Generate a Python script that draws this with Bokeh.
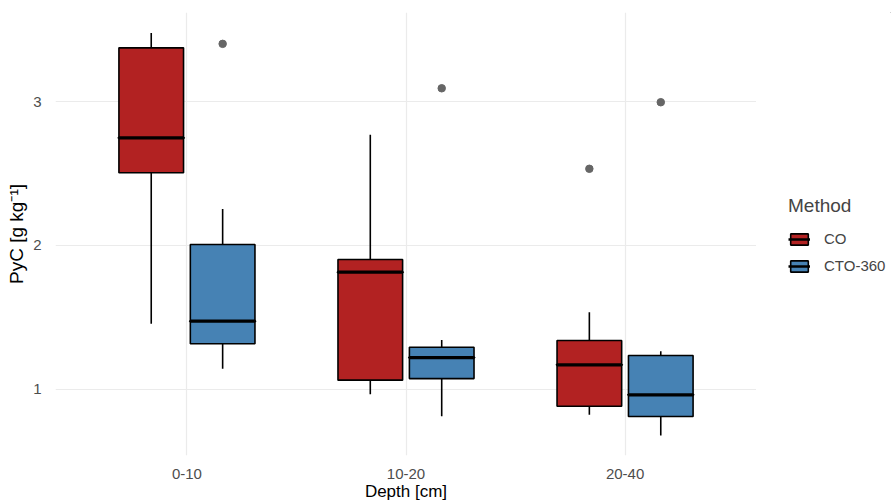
from bokeh.plotting import figure
from bokeh.layouts import row
from bokeh.models import (ColumnDataSource, FactorRange, Legend, LegendItem,
                          FixedTicker)
from bokeh.transform import dodge
from bokeh.embed import file_html
from bokeh.resources import INLINE

# ---- data ----
depths = ["0-10", "10-20", "20-40"]
methods = ["CO", "CTO-360"]
colors = ["#B22222", "#4682B4"]

# per method, per depth
co_low = [1.455, 0.965, 0.822]
co_q1 = [2.505, 1.063, 0.882]
co_med = [2.748, 1.814, 1.170]
co_q3 = [3.374, 1.902, 1.339]
co_high = [3.478, 2.769, 1.535]

cto_low = [1.142, 0.812, 0.678]
cto_q1 = [1.316, 1.074, 0.810]
cto_med = [1.473, 1.220, 0.961]
cto_q3 = [2.006, 1.292, 1.234]
cto_high = [2.254, 1.343, 1.264]

out_depth = ["0-10", "10-20", "20-40", "20-40"]
out_method = ["CTO-360", "CTO-360", "CO", "CTO-360"]
out_value = [3.402, 3.093, 2.533, 2.996]

y_ticks = [1, 2, 3]

FONT = "Liberation Sans"
offset = 0.163
box_w = 0.295

p = figure(frame_width=701, frame_height=443, x_range=FactorRange(*depths),
           y_range=(0.539, 3.62), output_backend="svg", toolbar_location=None,
           min_border_left=55, min_border_top=12, min_border_bottom=47,
           min_border_right=0)
p.x_range.range_padding = 0.1
p.x_range.range_padding_units = "absolute"
p.outline_line_color = None
p.background_fill_color = "white"
p.border_fill_color = "white"

p.xgrid.grid_line_color = "#EBEBEB"
p.ygrid.grid_line_color = "#EBEBEB"
p.xgrid.grid_line_width = 1.2
p.ygrid.grid_line_width = 1.2
p.yaxis.ticker = FixedTicker(ticks=y_ticks)

for ax in (p.xaxis[0], p.yaxis[0]):
    ax.axis_line_color = None
    ax.major_tick_line_color = None
    ax.minor_tick_line_color = None
    ax.major_label_text_color = "#4D4D4D"
    ax.major_label_text_font = FONT
    ax.major_label_text_font_size = "15px"
    ax.axis_label_text_font = FONT
    ax.axis_label_text_font_size = "19px"
    ax.axis_label_text_font_style = "normal"
    ax.axis_label_text_color = "black"
p.xaxis.axis_label_text_font_size = "17px"
p.xaxis.axis_label = "Depth [cm]"
p.yaxis.axis_label = "PyC [g kg\u207b\u00b9]"
p.xaxis.major_label_standoff = 7
p.yaxis.major_label_standoff = 8
p.xaxis.axis_label_standoff = 0
p.yaxis.axis_label_standoff = 3

stats = {"CO": (co_low, co_q1, co_med, co_q3, co_high),
         "CTO-360": (cto_low, cto_q1, cto_med, cto_q3, cto_high)}
for i, m in enumerate(methods):
    low, q1, med, q3, high = stats[m]
    src = ColumnDataSource(dict(depth=depths, low=low, q1=q1, med=med,
                                q3=q3, high=high))
    off = -offset if i == 0 else offset
    xx = dodge("depth", off, range=p.x_range)
    p.segment(x0=xx, y0="q3", x1=xx, y1="high", source=src,
              line_color="black", line_width=1.6)
    p.segment(x0=xx, y0="low", x1=xx, y1="q1", source=src,
              line_color="black", line_width=1.6)
    p.vbar(x=xx, width=box_w, bottom="q1", top="q3", source=src,
           fill_color=colors[i], line_color="black", line_width=1.6)
    p.rect(x=xx, y="med", width=box_w, height=0.0001, source=src,
           fill_color=None, line_color="black", line_width=3.2)

# outliers: dodge by method
for i, m in enumerate(methods):
    idx = [k for k, mm in enumerate(out_method) if mm == m]
    s = ColumnDataSource(dict(depth=[out_depth[k] for k in idx],
                              value=[out_value[k] for k in idx]))
    off = -offset if i == 0 else offset
    p.scatter(x=dodge("depth", off, range=p.x_range), y="value", source=s,
              size=7.5, fill_color="#666666", line_color="#666666")

# ---- legend panel (separate figure to the right) ----
lg = figure(width=135, height=502, x_range=(0, 1), y_range=(0, 1),
            output_backend="svg", toolbar_location=None,
            min_border=0)
lg.axis.visible = False
lg.grid.visible = False
lg.outline_line_color = None
lg.background_fill_color = "white"
lg.border_fill_color = "white"

items = []
for i, m in enumerate(methods):
    # a single off-range point so the legend has a glyph to draw
    dummy = ColumnDataSource(dict(x=[5], top=[6], bottom=[5], y=[5]))
    b = lg.vbar(x="x", top="top", bottom="bottom", width=0.1, source=dummy,
                fill_color=colors[i], line_color="black", line_width=1.6)
    md = lg.line(x="x", y="y", source=dummy, line_color="black",
                 line_width=2.5)
    items.append(LegendItem(label=m, renderers=[b, md]))

legend = Legend(items=items, location=(32, 180))
legend.title = "Method"
legend.title_text_font = FONT
legend.title_text_font_size = "19px"
legend.title_text_font_style = "normal"
legend.title_standoff = 13
legend.label_text_font = FONT
legend.label_text_font_size = "15px"
legend.glyph_width = 22
legend.glyph_height = 14
legend.label_height = 14
legend.spacing = 10
legend.label_standoff = 14
legend.border_line_color = None
legend.background_fill_alpha = 0
legend.margin = 0
legend.padding = 2
lg.add_layout(legend, "center")

layout = row(p, lg)
open("out.html", "w").write(file_html(layout, INLINE))
